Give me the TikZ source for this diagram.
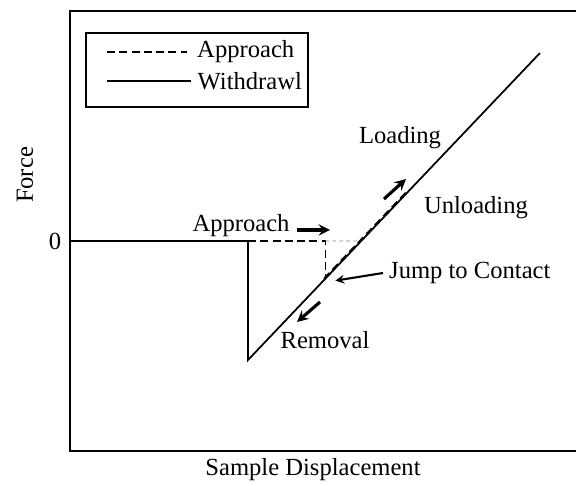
\documentclass[tikz,border=0pt]{standalone}
\usepackage{fontspec}
\setmainfont{Liberation Serif}
\usetikzlibrary{calc}

\begin{document}
\begin{tikzpicture}[x=0.02cm,y=-0.02cm,font=\fontsize{14}{16}\selectfont,
  curve/.style={line width=1pt},
  appr/.style={line width=1pt,dash pattern=on 4.5pt off 2.5pt},
  motion/.style={line width=1.8pt,-stealth}]
\useasboundingbox (0,0) rectangle (576,486);
\coordinate (Z) at (70,241); \coordinate (D) at (248,241); \coordinate (M) at (248,360); \coordinate (T) at (540,53);
\coordinate (J) at ($(M)!0.265!(T)$); \coordinate (C) at ($(M)!0.388!(T)$); \coordinate (E) at ($(M)!0.55!(T)$);
% frame and legend
\draw[line width=1.1pt] (576,11) -- (70,11) -- (70,451) -- (576,451);
\draw[line width=0.9pt] (86,33) rectangle (308,107);
\draw[appr] (107,52) -- (187,52) node[right=2pt] (la) {Approach};
\draw[curve] (107,81) -- (191,81) node[right=0pt] (lw) {Withdrawl};
% withdrawl curve
\draw[curve] (Z) -- (D) -- (M) -- (T);
% approach curve
\draw[appr] (D) -- (D -| J) -- (J);
\draw[appr,transform canvas={xshift=-0.8pt}] (J) -- (E);
\draw[line width=0.4pt,dash pattern=on 2pt off 2pt,gray] (D -| J) -- (C);
% labels
\node (force) at (25,175) [rotate=90] {Force};
\node (zero) at (55,241) {0};
\node (xlab) at (313,470) {Sample Displacement};
\node (approach) at (241,226) {Approach};
\node (loading) at (400,138) {Loading};
\node (unloading) at (476,208) {Unloading};
\node (jump) at (383,273) [right=0pt] {Jump to Contact};
\node (removal) at (325,340) {Removal};
% arrows
\coordinate (a1) at (297,230); \coordinate (a2) at (330,230);
\coordinate (l1) at (384,199); \coordinate (l2) at (406,179);
\coordinate (r1) at (320,302); \coordinate (r2) at (297,322);
\draw[motion] (a1) -- (a2);
\draw[motion] (l1) -- (l2);
\draw[motion] (r1) -- (r2);
\draw[line width=1.2pt,-stealth] (jump.west) -- ($(J)+(10,2)$);
\end{tikzpicture}
\end{document}
